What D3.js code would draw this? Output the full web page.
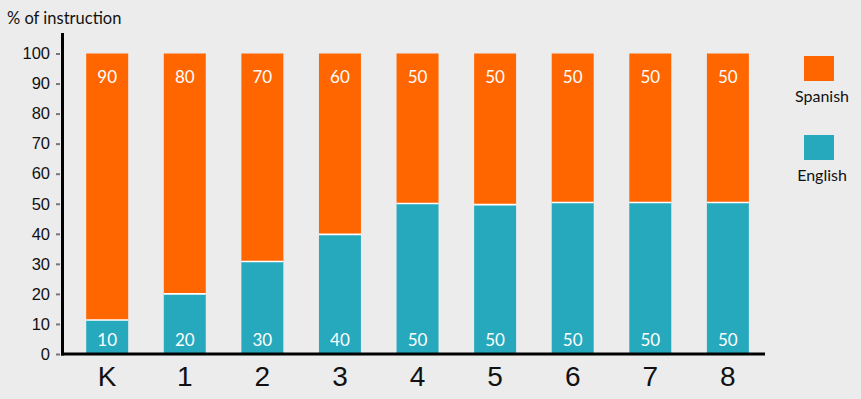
<!DOCTYPE html>
<html>
<head>
<meta charset="utf-8">
<script src="https://cdn.jsdelivr.net/npm/d3@7"></script>
<style>
  html, body { margin: 0; padding: 0; background: #ececec; }
  svg { display: block; font-family: Lato, "Open Sans", sans-serif; }
</style>
</head>
<body>
<div id="chart"></div>
<script>
// grades on the x axis
const grades = ['K', '1', '2', '3', '4', '5', '6', '7', '8'];
// bar heights as drawn (percent of instruction)
const english = [11.3, 20, 30.8, 39.8, 50.1, 49.7, 50.4, 50.4, 50.4];
const spanish = [88.7, 80, 69.2, 60.2, 49.9, 50.3, 49.6, 49.6, 49.6];
// printed labels inside the bars
const englishLabels = ['10', '20', '30', '40', '50', '50', '50', '50', '50'];
const spanishLabels = ['90', '80', '70', '60', '50', '50', '50', '50', '50'];
const yTicks = [0, 10, 20, 30, 40, 50, 60, 70, 80, 90, 100];

const series = [
  { name: 'Spanish', color: '#ff6600' },
  { name: 'English', color: '#26a9bd' }
];

const width = 861, height = 399;

const svg = d3.select('#chart')
  .append('svg')
  .attr('width', width)
  .attr('height', height);

const x = d3.scaleBand()
  .domain(grades)
  .range([62, 765])
  .paddingInner(0.459)
  .paddingOuter(0.26)
  .align(0.6);

const y = d3.scaleLinear()
  .domain([0, 100])
  .range([354, 53.5]);

const rows = grades.map((g, i) => ({
  grade: g, english: english[i], spanish: spanish[i],
  engLabel: englishLabels[i], spaLabel: spanishLabels[i]
}));

// english (bottom)
svg.selectAll('rect.eng')
  .data(rows)
  .enter()
  .append('rect')
  .attr('class', 'eng')
  .attr('x', d => x(d.grade))
  .attr('width', x.bandwidth())
  .attr('y', d => y(d.english))
  .attr('height', d => y(0) - y(d.english))
  .attr('fill', series[1].color);

// spanish (top)
svg.selectAll('rect.spa')
  .data(rows)
  .enter()
  .append('rect')
  .attr('class', 'spa')
  .attr('x', d => x(d.grade))
  .attr('width', x.bandwidth())
  .attr('y', d => y(d.english + d.spanish))
  .attr('height', d => y(d.english) - y(d.english + d.spanish))
  .attr('fill', series[0].color);

// white divider between the two segments
svg.selectAll('line.sep')
  .data(rows)
  .enter()
  .append('line')
  .attr('class', 'sep')
  .attr('x1', d => x(d.grade))
  .attr('x2', d => x(d.grade) + x.bandwidth())
  .attr('y1', d => y(d.english))
  .attr('y2', d => y(d.english))
  .attr('stroke', '#fff')
  .attr('stroke-width', 1.6);

// value labels
svg.selectAll('text.spa')
  .data(rows)
  .enter()
  .append('text')
  .attr('class', 'spa')
  .attr('x', d => x(d.grade) + x.bandwidth() / 2)
  .attr('y', d => y(d.english + d.spanish) + 29)
  .attr('text-anchor', 'middle')
  .attr('fill', '#fff')
  .style('font-size', '17px')
  .text(d => d.spaLabel);

svg.selectAll('text.eng')
  .data(rows)
  .enter()
  .append('text')
  .attr('class', 'eng')
  .attr('x', d => x(d.grade) + x.bandwidth() / 2)
  .attr('y', y(0) - 8)
  .attr('text-anchor', 'middle')
  .attr('fill', '#fff')
  .style('font-size', '17px')
  .text(d => d.engLabel);

// y axis
const yAxis = svg.append('g')
  .attr('transform', 'translate(62,0)')
  .call(d3.axisLeft(y).tickValues(yTicks).tickSize(6).tickPadding(6));
yAxis.select('.domain').remove();
yAxis.selectAll('.tick line')
  .attr('stroke', '#777')
  .attr('stroke-width', 2)
  .attr('x1', -6).attr('x2', -2);
yAxis.selectAll('.tick text')
  .attr('fill', '#111')
  .style('font-size', '16.5px')
  .attr('x', -12);

svg.append('line')
  .attr('x1', 62.5).attr('x2', 62.5)
  .attr('y1', 33).attr('y2', 355.5)
  .attr('stroke', '#000').attr('stroke-width', 3);

// x axis
const xAxis = svg.append('g')
  .attr('transform', `translate(0,${y(0)})`)
  .call(d3.axisBottom(x).tickSize(0).tickPadding(12));
xAxis.select('.domain').remove();
xAxis.selectAll('.tick text')
  .attr('fill', '#111')
  .style('font-size', '28px');

svg.append('line')
  .attr('x1', 61).attr('x2', 765)
  .attr('y1', y(0)).attr('y2', y(0))
  .attr('stroke', '#000').attr('stroke-width', 3);

svg.append('text')
  .attr('x', 7)
  .attr('y', 24)
  .attr('fill', '#111')
  .style('font-size', '16.5px')
  .text('% of instruction');

// legend
const legend = svg.selectAll('g.legend')
  .data(series)
  .enter()
  .append('g')
  .attr('class', 'legend')
  .attr('transform', (d, i) => `translate(804,${56 + i * 79})`);

legend.append('rect')
  .attr('width', 30)
  .attr('height', 25)
  .attr('fill', d => d.color);

legend.append('text')
  .attr('x', 18)
  .attr('y', 46)
  .attr('text-anchor', 'middle')
  .attr('fill', '#111')
  .style('font-size', '16px')
  .text(d => d.name);
</script>
</body>
</html>
